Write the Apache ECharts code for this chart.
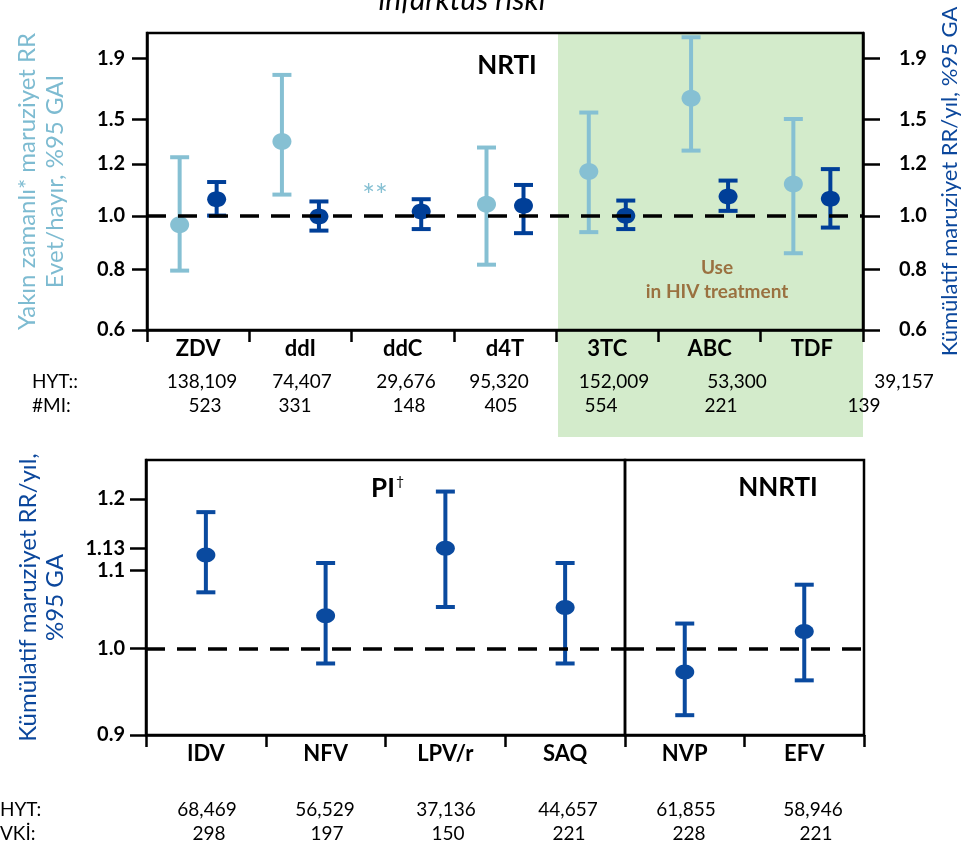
<!DOCTYPE html>
<html><head><meta charset="utf-8">
<script src="https://cdn.jsdelivr.net/npm/echarts@6/dist/echarts.min.js"></script>
<style>html,body{margin:0;padding:0;background:#fff}#c{width:969px;height:846px}</style>
</head><body><div id="c"></div>
<script>
// ---------- data ----------
const topCategories = ['ZDV', 'ddI', 'ddC', 'd4T', '3TC', 'ABC', 'TDF'];
const recentRR   = [0.963, 1.365, null, 1.050, 1.204, 1.636, 1.142];
const recentLow  = [0.795, 1.093, null, 0.815, 0.934, 1.314, 0.855];
const recentHigh = [1.278, 1.804, null, 1.331, 1.541, 2.112, 1.500];
const cumRR   = [1.072, 0.997, 1.018, 1.043, 1.000, 1.084, 1.074];
const cumLow  = [1.001, 0.940, 0.946, 0.930, 0.946, 1.021, 0.952];
const cumHigh = [1.152, 1.062, 1.072, 1.138, 1.066, 1.159, 1.216];
const topTickValues = [0.6205, 0.800, 1.0, 1.243, 1.499, 1.934];
const topTickLabels = ['0.6', '0.8', '1.0', '1.2', '1.5', '1.9'];
const topHYT = ['138,109', '74,407', '29,676', '95,320', '152,009', '53,300', '39,157'];
const topMI  = ['523', '331', '148', '405', '554', '221', '139'];

const piCategories = ['IDV', 'NFV', 'LPV/r', 'SAQ'];
const piRR   = [1.121, 1.041, 1.130, 1.0515];
const piLow  = [1.071, 0.982, 1.052, 0.982];
const piHigh = [1.181, 1.110, 1.211, 1.110];
const nnrtiCategories = ['NVP', 'EFV'];
const nnrtiRR   = [0.972, 1.021];
const nnrtiLow  = [0.922, 0.962];
const nnrtiHigh = [1.031, 1.081];
const bottomTickValues = [0.9001, 1.0, 1.1, 1.13, 1.2];
const bottomTickLabels = ['0.9', '1.0', '1.1', '1.13', '1.2'];
const bottomHYT = ['68,469', '56,529', '37,136', '44,657', '61,855', '58,946'];
const bottomVKI = ['298', '197', '150', '221', '228', '221'];

// ---------- style / layout ----------
const FONT = 'Lato, "DejaVu Sans", sans-serif';
const LIGHT = '#86C0D3';
const DARK = '#003F98';
const DARK2 = '#0A4A9F';
const topHYTx = [202, 302, 406, 499, 614, 737, 904];
const topMIx  = [205, 295, 409, 501, 601, 721, 864];
const bottomHYTx = [207, 325, 446, 568, 686, 813];
const bottomVKIx = [209, 327, 448, 569, 689, 816];

function nearestLabel(values, labels) {
  return function (v) {
    let best = 0;
    values.forEach(function (t, i) {
      if (Math.abs(Math.log(t / v)) < Math.abs(Math.log(values[best] / v))) best = i;
    });
    return labels[best];
  };
}

function errRender(offset, color, rx, ry, capHalf, lw) {
  return function (params, api) {
    const idx = api.value(0);
    const lo = api.coord([idx, api.value(1)]);
    const hi = api.coord([idx, api.value(2)]);
    const pt = api.coord([idx, api.value(3)]);
    const x = pt[0] + offset;
    const st = { stroke: color, lineWidth: lw };
    return {
      type: 'group', children: [
        { type: 'line', shape: { x1: x, y1: lo[1], x2: x, y2: hi[1] }, style: st },
        { type: 'line', shape: { x1: x - capHalf, y1: lo[1], x2: x + capHalf, y2: lo[1] }, style: st },
        { type: 'line', shape: { x1: x - capHalf, y1: hi[1], x2: x + capHalf, y2: hi[1] }, style: st },
        { type: 'ellipse', shape: { cx: x, cy: pt[1], rx: rx, ry: ry }, style: { fill: color } }
      ]
    };
  };
}

function rows(cats, rr, lo, hi) {
  return cats.map(function (c, i) {
    return rr[i] == null ? null : [i, lo[i], hi[i], rr[i]];
  }).filter(Boolean);
}

function catAxis(gridIndex, data) {
  return {
    type: 'category', gridIndex: gridIndex, data: data, boundaryGap: true,
    axisLine: { show: true, lineStyle: { color: '#000', width: 2.5 } },
    axisTick: { show: true, inside: false, length: 12, interval: 0, lineStyle: { color: '#000', width: 2.5 } },
    axisLabel: { interval: 0, margin: 8, color: '#000', fontFamily: FONT, fontWeight: 'bold', fontSize: 22 },
    splitLine: { show: false }
  };
}

function logAxis(gridIndex, min, max, vals, labs, extra, margin, tickLen) {
  const fmt = nearestLabel(vals, labs);
  return Object.assign({
    type: 'log', logBase: 10, gridIndex: gridIndex, min: min, max: max,
    axisLine: { show: true, lineStyle: { color: '#000', width: 2.5 } },
    axisTick: { show: true, inside: false, length: tickLen || 15, customValues: vals, lineStyle: { color: '#000', width: 2.5 } },
    axisLabel: { customValues: vals, formatter: fmt, margin: margin || 22, color: '#000', fontFamily: FONT, fontWeight: 'bold', fontSize: 20 },
    splitLine: { show: false },
    minorTick: { show: false }
  }, extra || {});
}

function txt(x, y, text, font, fill, align) {
  return {
    type: 'text', x: x, y: y, z: 10,
    style: { text: text, font: font, fill: fill, align: align || 'center', verticalAlign: 'middle',
             textAlign: align || 'center', textVerticalAlign: 'middle' }
  };
}

const dashed = {
  silent: true, symbol: 'none', label: { show: false },
  lineStyle: { color: '#000', width: 3.5, type: [19, 12] },
  data: [{ yAxis: 1 }]
};

const NUMFONT = '19px ' + FONT;
const graphics = [
  { type: 'rect', z: -1, shape: { x: 558, y: 34, width: 305, height: 403 }, style: { fill: '#D3EBCB' } },
  { type: 'text', x: 462, y: 15, z: 10, style: { text: 'infarktüs riski', font: 'italic 30px ' + FONT, fill: '#000',
      align: 'center', verticalAlign: 'bottom', textAlign: 'center', textVerticalAlign: 'bottom' } },
  txt(507, 66, 'NRTI', 'bold 26px ' + FONT, '#000'),
  txt(375, 196, '**', '30px ' + FONT, LIGHT),
  txt(717, 268, 'Use', 'bold 19px ' + FONT, '#9A7140'),
  txt(717, 292, 'in HIV treatment', 'bold 19px ' + FONT, '#9A7140'),
  txt(383, 489, 'PI', 'bold 26px ' + FONT, '#000'),
  txt(400, 481, '†', '14px ' + FONT, '#000'),
  txt(778, 488, 'NNRTI', 'bold 26px ' + FONT, '#000'),
  txt(32, 382, 'HYT::', NUMFONT, '#000', 'left'),
  txt(32, 406, '#MI:', NUMFONT, '#000', 'left'),
  txt(0, 810, 'HYT:', NUMFONT, '#000', 'left'),
  txt(0, 834, 'VKİ:', NUMFONT, '#000', 'left')
];
topHYT.forEach(function (t, i) { graphics.push(txt(topHYTx[i], 382, t, NUMFONT, '#000')); });
topMI.forEach(function (t, i) { graphics.push(txt(topMIx[i], 406, t, NUMFONT, '#000')); });
bottomHYT.forEach(function (t, i) { graphics.push(txt(bottomHYTx[i], 810, t, NUMFONT, '#000')); });
bottomVKI.forEach(function (t, i) { graphics.push(txt(bottomVKIx[i], 834, t, NUMFONT, '#000')); });

const chart = echarts.init(document.getElementById('c'), null, { renderer: 'canvas' });
chart.setOption({
  animation: false,
  backgroundColor: '#fff',
  textStyle: { fontFamily: FONT },
  grid: [
    { left: 147, top: 33, width: 716, height: 297, show: true, borderColor: '#000', borderWidth: 2.5, backgroundColor: 'transparent' },
    { left: 146, top: 460, width: 479, height: 275, show: true, borderColor: '#000', borderWidth: 2.5, backgroundColor: 'transparent' },
    { left: 625, top: 460, width: 239, height: 275, show: true, borderColor: '#000', borderWidth: 2.5, backgroundColor: 'transparent' }
  ],
  xAxis: [catAxis(0, topCategories), catAxis(1, piCategories), catAxis(2, nnrtiCategories)],
  yAxis: [
    logAxis(0, 0.62, 2.15, topTickValues, topTickLabels, {
      name: 'Yakın zamanlı* maruziyet RR\nEvet/hayır, %95 GAI', nameLocation: 'middle', nameRotate: 90, nameGap: 78,
      nameTextStyle: { color: '#7DBBD1', fontSize: 24, lineHeight: 28, fontFamily: FONT }
    }, 22, 15),
    logAxis(0, 0.62, 2.15, topTickValues, topTickLabels, {
      position: 'right',
      name: 'Kümülatif maruziyet RR/yıl, %95 GA', nameLocation: 'middle', nameRotate: 90, nameGap: 76,
      nameTextStyle: { color: '#0B479C', fontSize: 22, fontFamily: FONT }
    }, 36, 17),
    logAxis(1, 0.9, 1.2585, bottomTickValues, bottomTickLabels, {
      name: 'Kümülatif maruziyet RR/yıl,\n%95 GA', nameLocation: 'middle', nameRotate: 90, nameGap: 77,
      nameTextStyle: { color: '#0B479C', fontSize: 24, lineHeight: 27, fontFamily: FONT }
    }, 21, 16),
    logAxis(2, 0.9, 1.2585, bottomTickValues, bottomTickLabels, { show: false })
  ],
  graphic: { elements: graphics },
  series: [
    { type: 'line', xAxisIndex: 0, yAxisIndex: 0, data: [], z: 1, markLine: dashed },
    { type: 'custom', name: 'recent', xAxisIndex: 0, yAxisIndex: 0, z: 3,
      encode: { x: 0, y: [1, 2, 3] }, renderItem: errRender(-18.5, LIGHT, 9.5, 8.5, 9.5, 4),
      data: rows(topCategories, recentRR, recentLow, recentHigh) },
    { type: 'custom', name: 'cumulative', xAxisIndex: 0, yAxisIndex: 1, z: 4,
      encode: { x: 0, y: [1, 2, 3] }, renderItem: errRender(18.5, DARK, 9.5, 8, 9.5, 4),
      data: rows(topCategories, cumRR, cumLow, cumHigh) },
    { type: 'line', xAxisIndex: 1, yAxisIndex: 2, data: [], z: 1, markLine: dashed },
    { type: 'custom', name: 'PI', xAxisIndex: 1, yAxisIndex: 2, z: 3,
      encode: { x: 0, y: [1, 2, 3] }, renderItem: errRender(0, DARK2, 9.5, 7.5, 9.5, 4),
      data: rows(piCategories, piRR, piLow, piHigh) },
    { type: 'line', xAxisIndex: 2, yAxisIndex: 3, data: [], z: 1, markLine: dashed },
    { type: 'custom', name: 'NNRTI', xAxisIndex: 2, yAxisIndex: 3, z: 3,
      encode: { x: 0, y: [1, 2, 3] }, renderItem: errRender(0, DARK2, 9.5, 7.5, 9.5, 4),
      data: rows(nnrtiCategories, nnrtiRR, nnrtiLow, nnrtiHigh) }
  ]
});
</script></body></html>
